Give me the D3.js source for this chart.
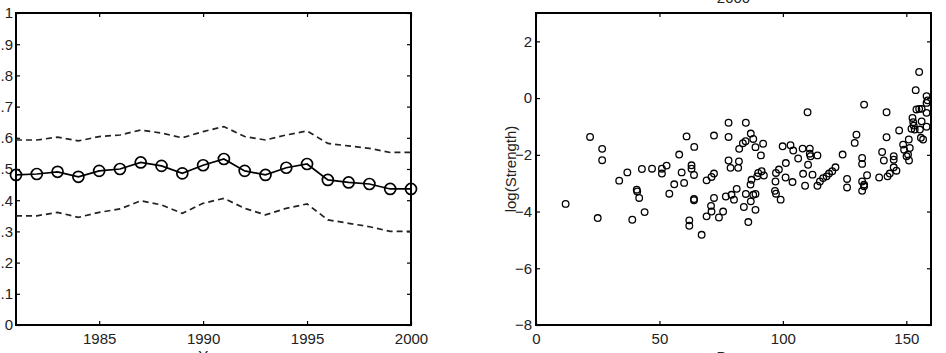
<!DOCTYPE html>
<html>
<head>
<meta charset="utf-8">
<script src="https://cdn.jsdelivr.net/npm/d3@7/dist/d3.min.js"></script>
<style>
	body { margin: 0; background: #fff; }
	svg text { font-family: "Liberation Sans", Arial, sans-serif; font-size: 15px; fill: #222; }
</style>
</head>
<body>
<div id="chart"></div>
<script>

// left panel: yearly mean with upper / lower bands
const years = [1981,1982,1983,1984,1985,1986,1987,1988,1989,1990,1991,1992,1993,1994,1995,1996,1997,1998,1999,2000];
const meanLine  = [0.481,0.484,0.491,0.475,0.494,0.500,0.521,0.510,0.486,0.512,0.532,0.494,0.481,0.504,0.516,0.465,0.457,0.452,0.436,0.436];
const upperBand = [0.593,0.593,0.602,0.590,0.604,0.609,0.625,0.615,0.600,0.620,0.636,0.604,0.593,0.609,0.622,0.582,0.574,0.566,0.553,0.553];
const lowerBand = [0.350,0.350,0.361,0.345,0.361,0.372,0.398,0.385,0.358,0.390,0.406,0.374,0.353,0.374,0.388,0.337,0.326,0.315,0.300,0.300];
const yearTicks = [1985,1990,1995,2000];
const shareTicks = [0,0.1,0.2,0.3,0.4,0.5,0.6,0.7,0.8,0.9,1];

// right panel: scatter
const days = [12.0,21.9,25.0,26.8,26.8,33.7,37.0,39.0,40.8,41.0,41.8,42.9,44.0,47.0,51.0,51.0,52.9,54.0,56.0,58.0,
	59.0,60.0,61.0,62.1,62.1,63.0,63.0,64.0,64.0,64.0,64.1,67.1,69.1,69.1,71.1,70.9,71.1,72.1,72.1,72.1,
	74.1,75.8,76.9,78.0,78.0,78.0,78.8,79.2,80.2,81.3,81.9,82.2,82.3,83.8,84.9,84.2,85.0,85.0,86.0,86.9,
	87.0,87.0,87.3,88.0,88.0,88.9,88.9,88.9,89.6,90.0,91.1,91.4,92.0,92.3,96.8,97.0,97.2,97.2,98.4,99.1,
	99.9,101.1,101.2,103.1,103.9,104.2,106.2,108.0,108.2,109.0,110.0,110.2,110.9,110.9,111.2,112.0,114.0,114.0,115.0,116.3,
	117.7,118.7,120.0,121.3,124.2,126.0,126.0,129.1,129.8,132.1,132.1,132.1,132.1,132.9,132.9,132.9,134.1,139.0,140.2,140.9,
	142.0,142.0,142.4,143.3,144.9,144.9,144.9,146.0,147.1,148.7,149.1,150.1,151.1,151.0,151.4,152.5,152.8,152.1,153.4,155.5,
	155.9,156.8,154.1,155.2,156.2,153.8,155.2,158.2,158.2,158.6,158.2,158.2,156.2,153.0,150.7];
const logStrength = [-3.73,-1.37,-4.23,-1.79,-2.19,-2.91,-2.62,-4.29,-3.23,-3.29,-3.52,-2.50,-4.02,-2.49,-2.49,-2.66,-2.38,-3.37,-3.04,-1.99,
	-2.62,-2.99,-1.35,-4.31,-4.50,-2.37,-2.49,-2.71,-3.56,-3.60,-1.72,-4.82,-2.90,-4.17,-2.78,-3.80,-4.00,-1.32,-2.66,-3.52,
	-4.21,-4.00,-3.47,-0.87,-1.37,-2.20,-2.46,-3.41,-3.58,-3.20,-2.46,-2.23,-1.79,-1.59,-1.52,-3.84,-0.87,-3.38,-4.37,-3.05,
	-1.25,-3.64,-2.88,-1.44,-3.41,-1.73,-3.38,-3.94,-2.76,-2.64,-2.02,-2.58,-1.61,-2.73,-3.27,-2.94,-2.64,-3.37,-2.52,-3.58,
	-1.70,-2.80,-2.29,-1.66,-2.96,-1.85,-2.13,-1.78,-2.67,-3.09,-0.50,-2.35,-1.78,-1.96,-2.05,-2.70,-2.02,-3.09,-2.94,-2.82,
	-2.76,-2.66,-2.58,-2.44,-1.99,-2.85,-3.15,-1.58,-1.29,-2.11,-2.32,-2.94,-3.27,-0.23,-3.05,-3.11,-2.72,-2.80,-1.90,-2.20,
	-0.50,-1.38,-2.76,-2.66,-2.05,-2.17,-2.44,-2.56,-1.14,-1.64,-1.82,-2.05,-2.20,-1.46,-1.76,-0.70,-0.85,-1.08,-1.11,-1.11,
	-1.40,-1.46,-0.40,-0.38,-0.38,0.28,0.92,0.07,-0.17,-0.08,-0.52,-1.01,-0.82,-0.97,-1.99];
const dayTicks = [0,50,100,150];
const strengthTicks = [-8,-6,-4,-2,0,2];

const W = 946, H = 353;

const svg = d3.select("#chart").append("svg")
	.attr("width", W)
	.attr("height", H);

// draws the box with inward ticks on all four sides
function frame(g, x, y, xTicks, yTicks, xFmt, yFmt, yPad){
	const [x0, x1] = x.range();
	const [y0, y1] = y.range();
	const tl = 4;

	g.append("g")
		.attr("transform", `translate(0,${y0})`)
		.call(d3.axisBottom(x).tickValues(xTicks).tickFormat(xFmt).tickSizeInner(-tl).tickSizeOuter(0).tickPadding(8))
		.call(a => a.select(".domain").remove());
	g.append("g")
		.attr("transform", `translate(0,${y1})`)
		.call(d3.axisTop(x).tickValues(xTicks).tickFormat("").tickSizeInner(-tl).tickSizeOuter(0))
		.call(a => a.select(".domain").remove());
	g.append("g")
		.attr("transform", `translate(${x0},0)`)
		.call(d3.axisLeft(y).tickValues(yTicks).tickFormat(yFmt).tickSizeInner(-tl).tickSizeOuter(0).tickPadding(yPad))
		.call(a => a.select(".domain").remove());
	g.append("g")
		.attr("transform", `translate(${x1},0)`)
		.call(d3.axisRight(y).tickValues(yTicks).tickFormat("").tickSizeInner(-tl).tickSizeOuter(0))
		.call(a => a.select(".domain").remove());

	g.selectAll(".tick line").attr("stroke", "#000").attr("stroke-width", 1.2);
	g.selectAll(".tick text").attr("fill", "#222").style("font-size", "15px")
		.style("font-family", "'Liberation Sans', Arial, sans-serif");

	g.append("rect")
		.attr("x", x0).attr("y", y1)
		.attr("width", x1 - x0).attr("height", y0 - y1)
		.attr("fill", "none")
		.attr("stroke", "#000")
		.attr("stroke-width", 2);
}

// ---- left panel
function bandChart(g){
	const x = d3.scaleLinear().domain([1981, 2000]).range([16, 411]);
	const y = d3.scaleLinear().domain([0, 1]).range([325, 13]);

	const shareFmt = d => (d === 0 || d === 1) ? String(d) : d3.format(".1f")(d).replace(/^0/, "");
	frame(g, x, y, yearTicks, shareTicks, d3.format("d"), shareFmt, 3);

	const line = vals => d3.line()
		.x((d, i) => x(years[i]))
		.y(d => y(d))(vals);

	[upperBand, lowerBand].forEach(b => {
		g.append("path")
			.attr("d", line(b))
			.attr("fill", "none")
			.attr("stroke", "#222")
			.attr("stroke-width", 1.7)
			.attr("stroke-dasharray", "6,4");
	});

	g.append("path")
		.attr("d", line(meanLine))
		.attr("fill", "none")
		.attr("stroke", "#000")
		.attr("stroke-width", 1.7);

	g.selectAll(".mk")
		.data(meanLine)
		.enter()
		.append("circle")
		.attr("class", "mk")
		.attr("cx", (d, i) => x(years[i]))
		.attr("cy", d => y(d))
		.attr("r", 5.5)
		.attr("fill", "none")
		.attr("stroke", "#000")
		.attr("stroke-width", 1.7);

	g.append("text")
		.attr("x", (16 + 411) / 2)
		.attr("y", 361)
		.attr("text-anchor", "middle")
		.text("Year");
}

// ---- right panel
function scatterChart(g){
	const x = d3.scaleLinear().domain([0, 160]).range([536, 931]);
	const y = d3.scaleLinear().domain([-8, 3]).range([325, 13]);

	frame(g, x, y, dayTicks, strengthTicks, d3.format("d"), d3.format("d"), 4);

	g.selectAll(".dot")
		.data(days)
		.enter()
		.append("circle")
		.attr("class", "dot")
		.attr("cx", d => x(d))
		.attr("cy", (d, i) => y(logStrength[i]))
		.attr("r", 3.3)
		.attr("fill", "none")
		.attr("stroke", "#000")
		.attr("stroke-width", 1.3);

	g.append("text")
		.attr("x", (536 + 931) / 2)
		.attr("y", 3)
		.attr("text-anchor", "middle")
		.text("2000");

	g.append("text")
		.attr("x", (536 + 931) / 2)
		.attr("y", 362)
		.attr("text-anchor", "middle")
		.text("Days");

	g.append("text")
		.attr("transform", `translate(516,${(13 + 325) / 2}) rotate(-90)`)
		.attr("text-anchor", "middle")
		.style("font-size", "15px")
		.text("log(Strength)");
}

bandChart(svg.append("g"));
scatterChart(svg.append("g"));

</script>
</body>
</html>
